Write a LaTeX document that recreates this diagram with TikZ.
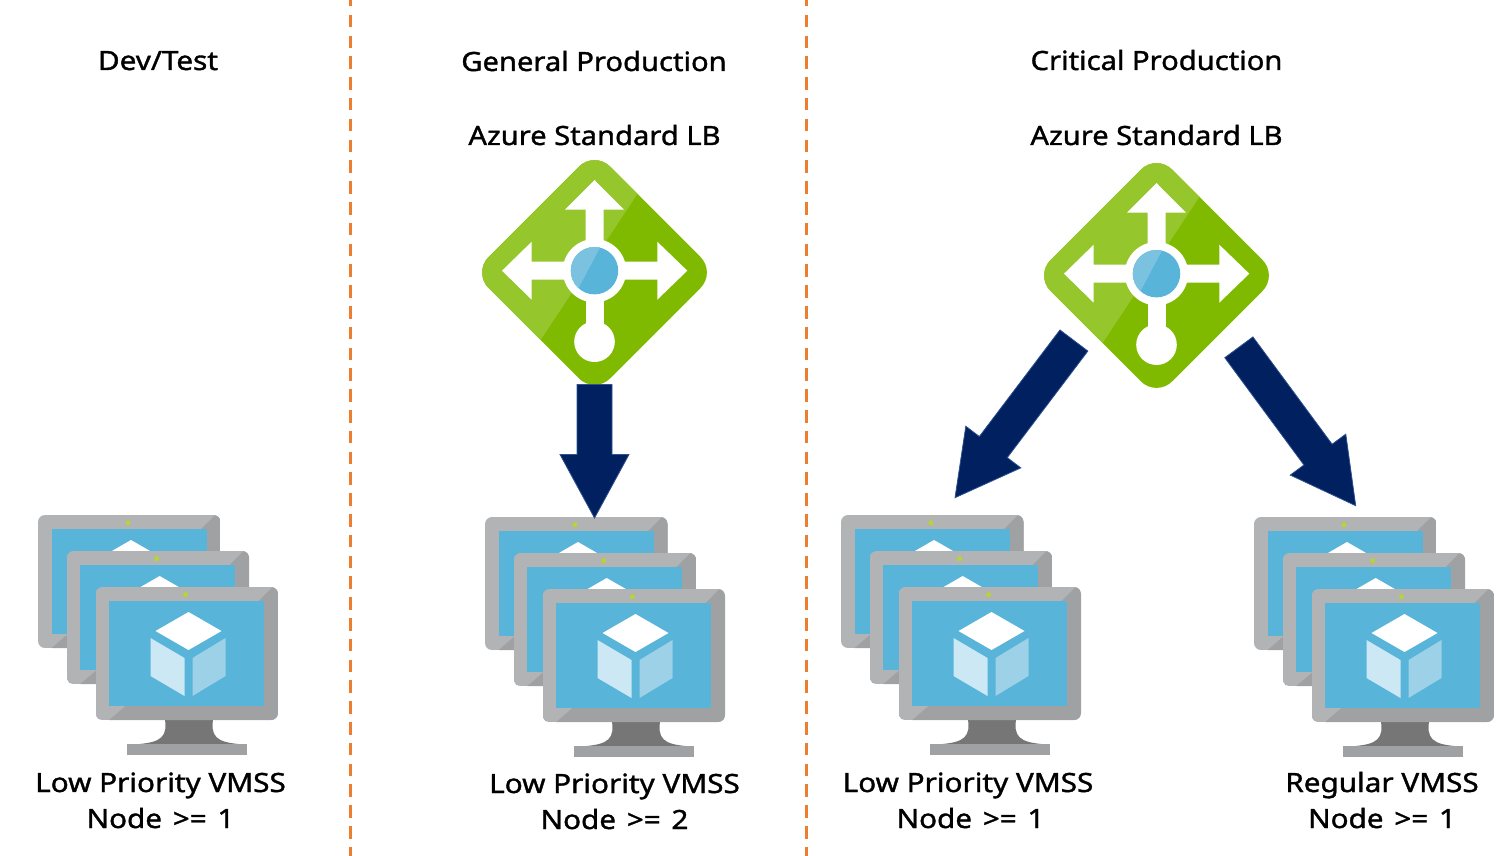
\documentclass[tikz,border=0pt]{standalone}
\usepackage{fontspec}
\setmainfont{Noto Sans}
\newfontfamily\lblfont{Noto Sans}[FakeStretch=1.10,FakeBold=1.3]
\newfontfamily\lblfontw{Noto Sans}[FakeStretch=1.12,FakeBold=1.3]
\newcommand\wsp{\kern3pt\relax}
\usetikzlibrary{calc}
\definecolor{azblue}{HTML}{59B4D9}
\definecolor{azbluelight}{HTML}{7AC2E0}
\definecolor{azgreen}{HTML}{7FBA00}
\definecolor{azgreenlight}{HTML}{95C62B}
\definecolor{azlime}{HTML}{B8D432}
\definecolor{monlight}{HTML}{B1B3B4}
\definecolor{mondark}{HTML}{A0A1A2}
\definecolor{monneck}{HTML}{767676}
\definecolor{cubeleft}{HTML}{CCE8F4}
\definecolor{cuberight}{HTML}{9CD1E8}
\definecolor{arrowfill}{HTML}{002060}
\definecolor{arrowedge}{HTML}{2F528F}
\definecolor{divider}{HTML}{ED7D31}
\tikzset{
  x=1pt,y=-1pt,
  lbl/.style={inner sep=0pt,font=\lblfont\fontsize{26.5}{30}\selectfont,text=black,anchor=base},
  lblw/.style={lbl,font=\lblfontw\fontsize{26.5}{30}\selectfont},
  blockarrowstyle/.style={fill=arrowfill,draw=arrowedge,line width=0.8pt,line join=miter},
  dividerline/.style={draw=divider,line width=2.5pt,dash pattern=on 12.5pt off 8.3pt,dash phase=6pt},
  monitor/.pic={
    \fill[monneck] (69,130) -- (118,130) .. controls (114,150) and (122,155) .. (143,157)
       -- (44,157) .. controls (65,155) and (73,150) .. (69,130) -- cycle;
    \fill[mondark] (31,157) rectangle (151,168);
    \begin{scope}
      \clip[rounded corners=7pt] (0,0) rectangle (182.5,133);
      \fill[monlight] (0,0) rectangle (182.5,133);
      \fill[mondark] (177,0) -- (182.5,0) -- (182.5,133) -- (13.7,133) -- (30,119) -- (168,119) -- (168,14) -- (163,14) -- cycle;
    \end{scope}
    \fill[azblue] (13.5,14) rectangle (168.5,119);
    \fill[azlime] (90,7.7) circle (2.5pt);
    \fill[white] (93,25) -- (126,44) -- (93,63) -- (60,44) -- cycle;
    \fill[cubeleft] (55,51) -- (89,71) -- (89,109) -- (55,89) -- cycle;
    \fill[cuberight] (130,51) -- (97,71) -- (97,109) -- (130,89) -- cycle;
  },
  vmstack/.pic={
    \pic at (0,0) {monitor};
    \pic at (28.7,36) {monitor};
    \pic at (57.5,72) {monitor};
  },
  lbicon/.pic={
    \begin{scope}
      \clip[rounded corners=22pt] (0,-121.5) -- (121.5,0) -- (0,121.5) -- (-121.5,0) -- cycle;
      \fill[azgreen] (-125,-125) rectangle (125,125);
      \fill[azgreenlight] (-125,-125) -- (73.7,-125) -- (-92,125) -- (-125,125) -- cycle;
    \end{scope}
    \begin{scope}[shift={(0,-1.8)}]
      \fill[white] (-9,0) -- (-9,-61) -- (-29.5,-61) -- (0,-90.7) -- (29.5,-61) -- (9,-61) -- (9,0) -- cycle;
      \fill[white] (0,-9) -- (-62.8,-9) -- (-62.8,-29) -- (-92.5,0) -- (-62.8,29) -- (-62.8,9) -- (0,9) -- cycle;
      \fill[white] (0,-9) -- (62.8,-9) -- (62.8,-29) -- (92.8,0) -- (62.8,29) -- (62.8,9) -- (0,9) -- cycle;
      \fill[white] (-9,0) rectangle (9,65);
      \fill[white] (0,71) circle (20.3pt);
      \fill[white] (0,0) circle (31.7pt);
      \begin{scope}
        \clip (0,0) circle (23.7pt);
        \fill[azblue] (-25,-25) rectangle (25,25);
        \fill[azbluelight] (-25,-25) -- (6.5,-25) -- (-20,25) -- (-25,25) -- cycle;
      \end{scope}
    \end{scope}
  },
}
\newcommand\blockarrow[2]{%
  \coordinate (hb) at ($(#2)!63.5pt!(#1)$);
  \draw[blockarrowstyle]
    ($(#1)!17.5pt!90:(#2)$) -- ($(hb)!17.5pt!-90:(#1)$) -- ($(hb)!34.5pt!-90:(#1)$) -- (#2)
    -- ($(hb)!34.5pt!90:(#1)$) -- ($(hb)!17.5pt!90:(#1)$) -- ($(#1)!17.5pt!-90:(#2)$) -- cycle;
}
\begin{document}
\begin{tikzpicture}
\useasboundingbox (0,0) rectangle (1496,856);
% dividers
\coordinate (divAtop) at (350.5,0); \coordinate (divAbot) at (350.5,856);
\coordinate (divBtop) at (806.5,0); \coordinate (divBbot) at (806.5,856);
\draw[dividerline] (divAtop) -- (divAbot);
\draw[dividerline] (divBtop) -- (divBbot);
% headings
\node[lblw] (hDev) at (158,70) {Dev/Test};
\node[lbl] (hGen) at (594,71) {General Production};
\node[lbl] (hCrit) at (1156.5,70) {Critical Production};
\node[lbl] (lbTextA) at (594.5,145) {Azure Standard LB};
\node[lbl] (lbTextB) at (1156.5,145) {Azure Standard LB};
% load balancers
\pic at (594.5,272.5) {lbicon};
\pic at (1156.5,275.5) {lbicon};
% VM stacks
\pic at (38,515) {vmstack};
\pic at (485,517) {vmstack};
\pic at (841,515) {vmstack};
\pic at (1254,517) {vmstack};
% labels
\node[lblw] (vmTextA) at (160.5,792) {Low Priority VMSS};
\node[lblw] (vmTextAn) at (160.5,828) {Node\wsp{} >=\wsp{} 1};
\node[lblw] (vmTextB) at (614.5,793) {Low Priority VMSS};
\node[lblw] (vmTextBn) at (614.5,829) {Node\wsp{} >=\wsp{} 2};
\node[lblw] (vmTextC) at (968,792) {Low Priority VMSS};
\node[lblw] (vmTextCn) at (970.5,828) {Node\wsp{} >=\wsp{} 1};
\node[lblw] (vmTextD) at (1382,792) {Regular VMSS};
\node[lblw] (vmTextDn) at (1382,828) {Node\wsp{} >=\wsp{} 1};
% block arrows
\coordinate (outA) at (594.5,384.5); \coordinate (inA) at (594.5,518);
\coordinate (outL) at (1073.9,340.5); \coordinate (inL) at (955,497.7);
\coordinate (outR) at (1238.85,347.3); \coordinate (inR) at (1355.7,505.7);
\blockarrow{outA}{inA}
\blockarrow{outL}{inL}
\blockarrow{outR}{inR}
\end{tikzpicture}
\end{document}
